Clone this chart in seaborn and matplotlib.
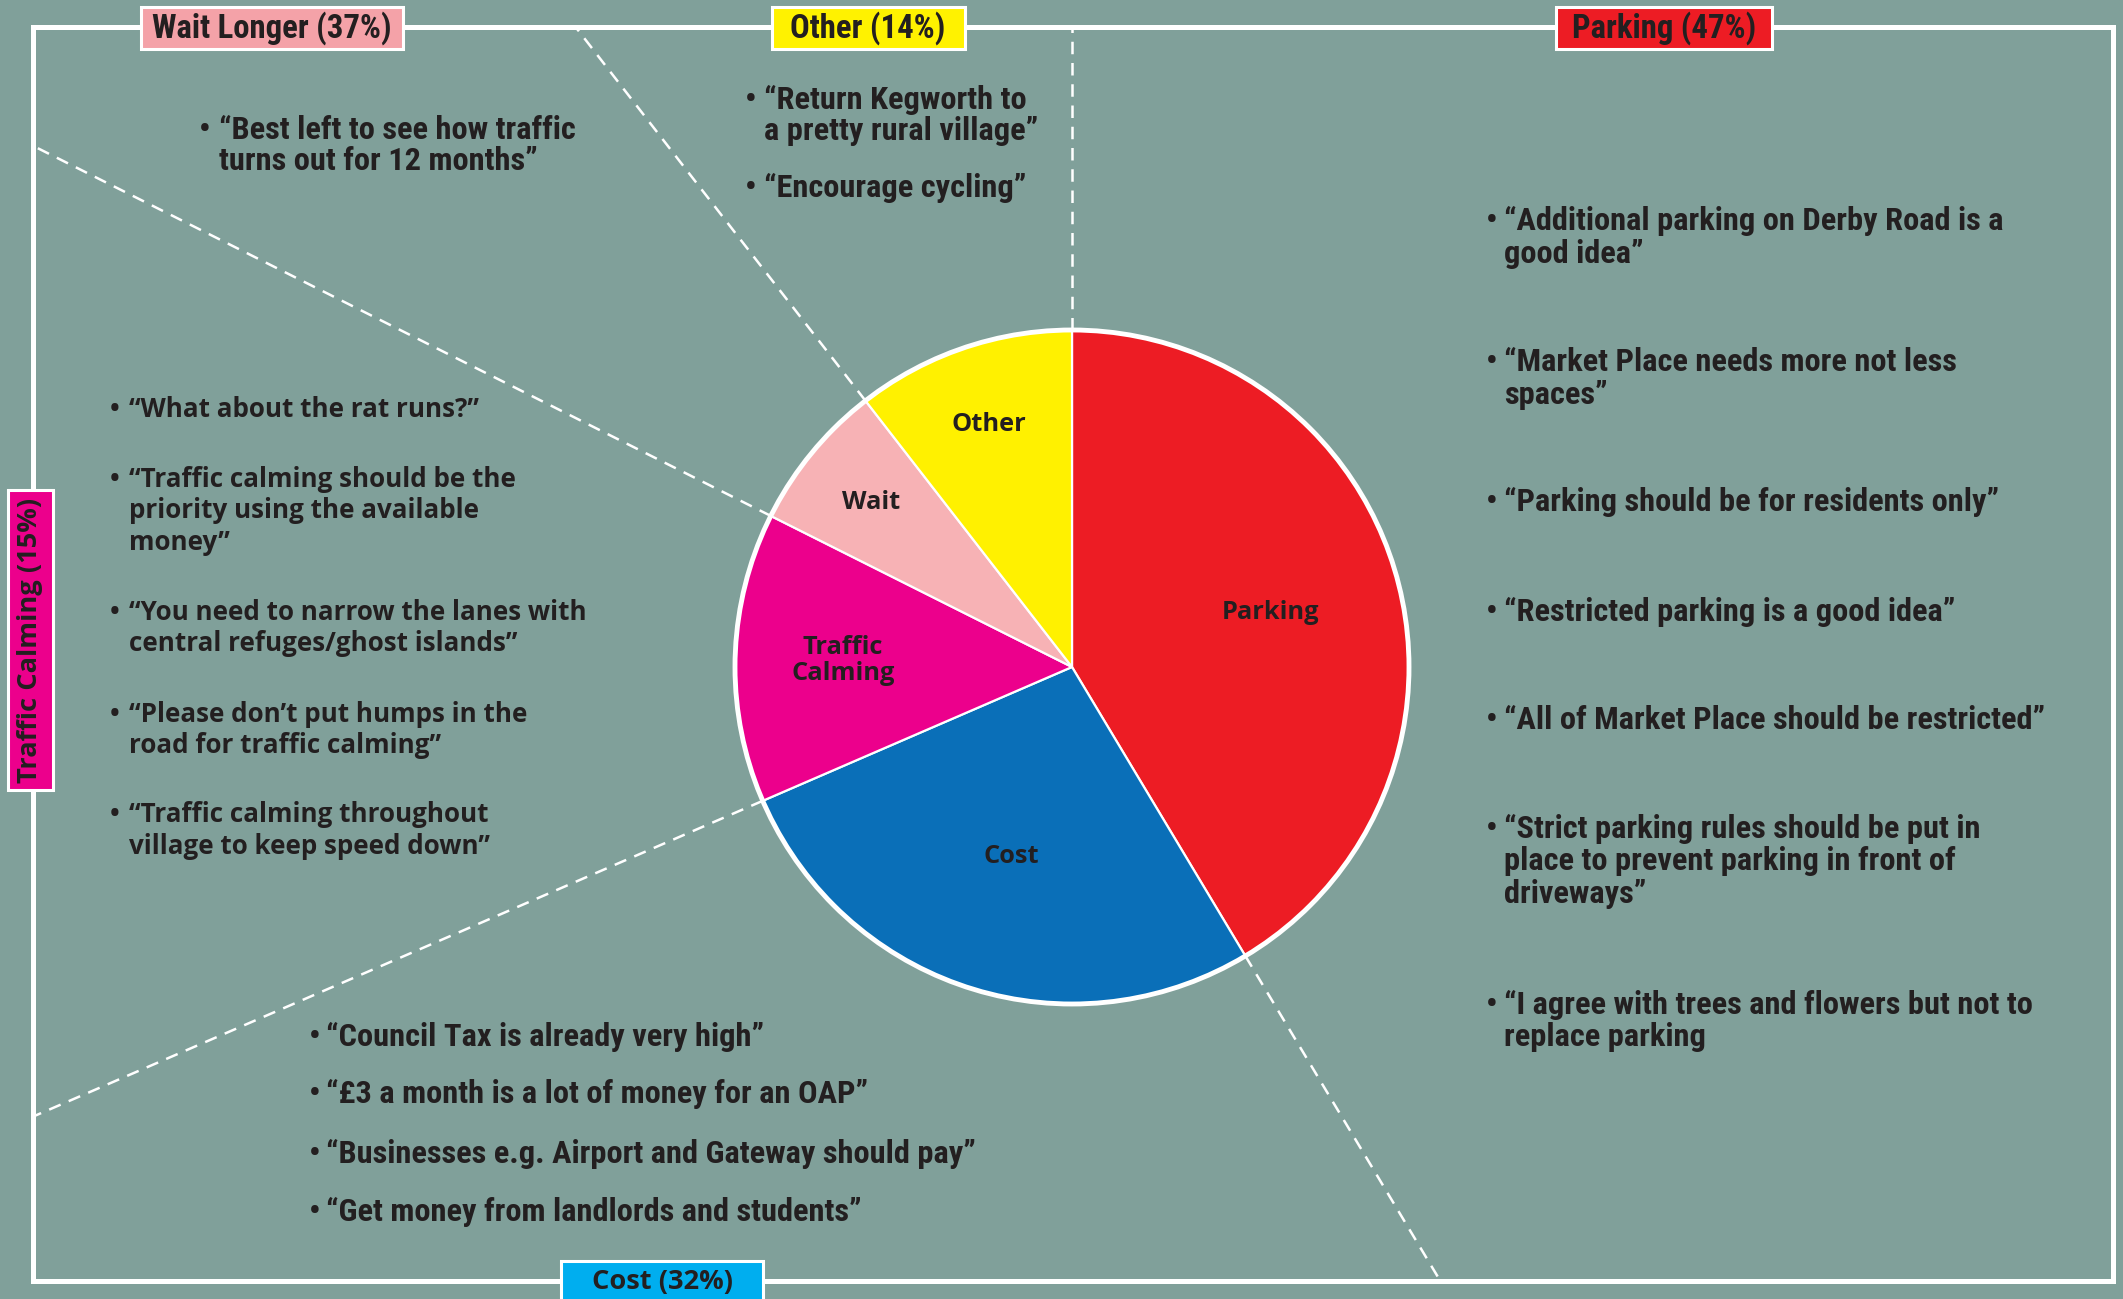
import numpy as np
import matplotlib.pyplot as plt
import seaborn as sns
from matplotlib import font_manager
from matplotlib.font_manager import FontProperties
from matplotlib.textpath import TextPath
from matplotlib.patches import Rectangle, Circle

# pie shares
categories = ["Parking", "Cost", "Traffic\nCalming", "Wait", "Other"]
shares = [41.4, 27.1, 13.9, 7.1, 10.5]
slice_colors = ["#ED1C24", "#0A6FB8", "#EC008C", "#F7B2B5", "#FFF100"]

box_texts = ["Wait Longer (37%)", "Other (14%)", "Parking (47%)", "Cost (32%)", "Traffic Calming (15%)"]
box_colors = ["#F4A2A8", "#FFF200", "#ED1C24", "#00AEEF", "#EC008C"]

quotes_wait = [["“Best left to see how traffic", "turns out for 12 months”"]]
quotes_other = [["“Return Kegworth to", "a pretty rural village”"],
                ["“Encourage cycling”"]]
quotes_parking = [["“Additional parking on Derby Road is a", "good idea”"],
                  ["“Market Place needs more not less", "spaces”"],
                  ["“Parking should be for residents only”"],
                  ["“Restricted parking is a good idea”"],
                  ["“All of Market Place should be restricted”"],
                  ["“Strict parking rules should be put in", "place to prevent parking in front of", "driveways”"],
                  ["“I agree with trees and flowers but not to", "replace parking"]]
quotes_calming = [["“What about the rat runs?”"],
                  ["“Traffic calming should be the", "priority using the available", "money”"],
                  ["“You need to narrow the lanes with", "central refuges/ghost islands”"],
                  ["“Please don’t put humps in the", "road for traffic calming”"],
                  ["“Traffic calming throughout", "village to keep speed down”"]]
quotes_cost = [["“Council Tax is already very high”"],
               ["“£3 a month is a lot of money for an OAP”"],
               ["“Businesses e.g. Airport and Gateway should pay”"],
               ["“Get money from landlords and students”"]]

BG = "#80A09A"
INK = "#231F20"
W, H = 2123, 1299

sns.set_theme(style="white", rc={"figure.facecolor": BG, "axes.facecolor": BG})
plt.rcParams['font.family'] = ['Noto Sans', 'DejaVu Sans']


def _w(f):
    return f.weight if isinstance(f.weight, int) else font_manager.weight_dict.get(f.weight, 400)


def _s(f):
    return f.stretch if isinstance(f.stretch, int) else font_manager.stretch_dict.get(f.stretch, 500)


def find_face(names, condensed=False):
    faces = font_manager.fontManager.ttflist
    for n in names:
        for f in faces:
            if n is not None and f.name != n:
                continue
            if _w(f) >= 600 and f.style == "normal" and (_s(f) < 500) == condensed:
                return FontProperties(fname=f.fname)
    return None


BOLD = find_face(["Noto Sans", "Open Sans", "Lato", "Roboto", "Liberation Sans", "DejaVu Sans"])
NARROW = (find_face(["Liberation Sans Narrow", "Noto Sans", "Open Sans", "Roboto Condensed",
                     "Roboto", "Liberation Sans", None], condensed=True) or BOLD)


def fit(base, sample, target_px):
    # font size that gives the sample string the ink width seen in the picture
    ext = TextPath((0, 0), sample, size=100, prop=base).get_extents()
    p = base.copy()
    p.set_size(100 * target_px / (ext.width * 100 / 72))
    return p


F_BODY_N = fit(NARROW, "“Additional parking on Derby Road is a", 497)
F_BODY_R = fit(BOLD, "“You need to narrow the lanes with", 454)
F_TOP = fit(NARROW, "Wait Longer (37%)", 237)
F_BOX = fit(BOLD, "Cost (32%)", 138)
F_PIE = fit(BOLD, "Parking", 95)


def Y(y):
    return H - y


fig = plt.figure(figsize=(W / 100, H / 100), dpi=100)
ax = fig.add_axes([0, 0, 1, 1])

cx, cy, R = 1072, Y(667), 337
wedges, _ = ax.pie(shares, colors=sns.color_palette(slice_colors), startangle=90,
                   counterclock=False, center=(cx, cy), radius=R,
                   wedgeprops=dict(edgecolor="white", linewidth=1.6))
ax.add_patch(Circle((cx, cy), R, fill=False, edgecolor="white", lw=3.5, zorder=3))
ax.set_xlim(0, W)
ax.set_ylim(0, H)
ax.set_aspect("equal")
ax.axis("off")

# frame
fx0, fx1, fy0, fy1 = 32.5, 2113, Y(1281), Y(27)
ax.add_patch(Rectangle((fx0, fy0), fx1 - fx0, fy1 - fy0, fill=False,
                       edgecolor="white", lw=3.6, zorder=1))

# dashed extensions of the wedge boundaries
bounds = sorted({round(w.theta1 % 360, 6) for w in wedges} | {round(w.theta2 % 360, 6) for w in wedges})
for a in bounds:
    dx, dy = np.cos(np.radians(a)), np.sin(np.radians(a))
    ts = []
    if abs(dx) > 1e-9:
        ts += [(fx0 - cx) / dx, (fx1 - cx) / dx]
    if abs(dy) > 1e-9:
        ts += [(fy0 - cy) / dy, (fy1 - cy) / dy]
    t = min(t for t in ts if t > 0)
    ax.plot([cx + R * dx, cx + t * dx], [cy + R * dy, cy + t * dy], color="white",
            lw=1.8, ls=(0, (5, 3.5)), zorder=1)

# wedge labels
label_radius = [0.61, 0.59, 0.68, 0.77, 0.76]
for w, lab, r in zip(wedges, categories, label_radius):
    m = np.radians((w.theta1 + w.theta2) / 2)
    ax.text(cx + r * R * np.cos(m), cy + r * R * np.sin(m), lab, ha="center", va="center",
            fontproperties=F_PIE, color=INK, linespacing=1.1, zorder=4)

# category boxes
box_geo = [(272, 28, 262, 42, 0), (868, 28, 193, 42, 0), (1664, 28, 216, 42, 0),
           (662, 1282, 202, 42, 0), (30, 640, 45, 300, 90)]
box_font = [F_TOP, F_TOP, F_TOP, F_BOX, F_BOX]
for (bx, by, bw, bh, rot), txt, col, fp in zip(box_geo, box_texts, box_colors, box_font):
    ax.add_patch(Rectangle((bx - bw / 2, Y(by) - bh / 2), bw, bh, facecolor=col,
                           edgecolor="white", lw=2.2, zorder=5))
    ax.text(bx, Y(by), txt, ha="center", va="center", rotation=rot,
            fontproperties=fp, color=INK, zorder=6)


def bullets(items, xb, xt, ys, fp, sp):
    for item, y0 in zip(items, ys):
        ax.text(xb, Y(y0), "•", ha="left", va="center", fontproperties=fp, color=INK)
        for i, line in enumerate(item):
            ax.text(xt, Y(y0 + i * sp), line, ha="left", va="center",
                    fontproperties=fp, color=INK)


bullets(quotes_wait, 199, 219, [130], F_BODY_N, 31)
bullets(quotes_other, 745, 764, [100, 188], F_BODY_N, 31)
bullets(quotes_parking, 1486, 1504, [221, 362, 502, 612, 720, 829, 1005], F_BODY_N, 32.5)
bullets(quotes_calming, 110, 129, [409, 479, 612, 714, 815], F_BODY_R, 31.5)
bullets(quotes_cost, 309, 326, [1037, 1094, 1154, 1212], F_BODY_N, 31)

fig.savefig("out.png", dpi=100, facecolor=BG)
